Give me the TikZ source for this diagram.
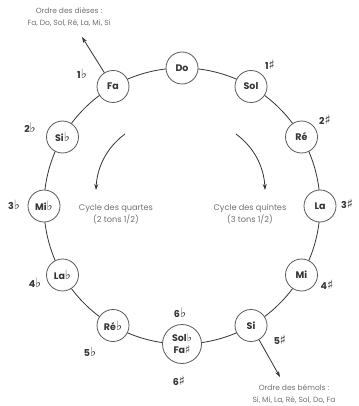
\documentclass[tikz,border=0pt]{standalone}
\usepackage{fontspec}
\setmainfont{Poppins}
\newfontfamily\symf{DejaVu Sans}
\usetikzlibrary{arrows.meta}
\newcommand{\fl}{\scalebox{1.35}{\symf\char"266D}}
\newcommand{\sh}{\scalebox{1.35}{\symf\char"266F}}
\newcommand{\flsm}{\scalebox{1.15}{\symf\char"266D}}
\newcommand{\shsm}{\scalebox{1.15}{\symf\char"266F}}
\definecolor{ringc}{HTML}{5A5A5A}
\definecolor{notec}{HTML}{333333}
\definecolor{infoc}{HTML}{707070}
\definecolor{linec}{HTML}{333333}
\begin{document}
\begin{tikzpicture}[x=1pt,y=-1pt,
  note/.style={circle, draw=ringc, fill=white, line width=0.8pt, minimum size=32pt, inner sep=0pt,
    font=\fontsize{9.5}{10.5}\selectfont\bfseries, text=notec, align=center},
  cnt/.style={font=\fontsize{9.5}{10.5}\selectfont\bfseries, text=notec, inner sep=0pt},
  info/.style={font=\fontsize{7.5}{12}\selectfont, text=infoc, align=center, inner sep=0pt},
  cyc/.style={font=\fontsize{8.2}{12.5}\selectfont, text=infoc, align=center, inner sep=0pt},
  ptr/.style={-{Stealth[length=6pt,width=4pt]}, draw=linec, line width=0.8pt}]
\useasboundingbox (0,0) rectangle (358,406);
\coordinate (C) at (182,206);
\draw[linec, line width=0.8pt] (C) circle [radius=138pt];
% notes
\node[note] (Do)  at (182,68) {Do};
\node[note] (Sol) at (251,86.5) {Sol};
\node[note] (Re)  at (301.5,137) {Ré};
\node[note] (La)  at (320,206) {La};
\node[note] (Mi)  at (301.5,275) {Mi};
\node[note] (Si)  at (251,325.5) {Si};
\node[note, minimum size=39pt, font=\fontsize{9.5}{12}\selectfont\bfseries] (SolFa) at (182,344) {Sol\flsm\\Fa\shsm};
\node[note] (Reb) at (113,325.5) {Ré\fl};
\node[note] (Lab) at (62.5,275) {La\fl};
\node[note] (Mib) at (44,206) {Mi\fl};
\node[note] (Sib) at (62.5,137) {Si\fl};
\node[note] (Fa)  at (113,86.5) {Fa};
% counts
\node[cnt] (c1f) at (82,74) {1\fl};
\node[cnt] (c2f) at (30,128) {2\fl};
\node[cnt] (c3f) at (14,205) {3\fl};
\node[cnt] (c4f) at (35,283) {4\fl};
\node[cnt] (c5f) at (90,352) {5\fl};
\node[cnt] (c6f) at (180,313) {6\fl};
\node[cnt] (c6s) at (179,381) {6\sh};
\node[cnt] (c5s) at (280,340) {5\sh};
\node[cnt] (c4s) at (327,285) {4\sh};
\node[cnt] (c3s) at (347,204) {3\sh};
\node[cnt] (c2s) at (325,120) {2\sh};
\node[cnt] (c1s) at (270,65) {1\sh};
% order texts
\node[info] (dieses) at (69,17) {Ordre des dièses :\\Fa, Do, Sol, Ré, La, Mi, Si};
\node[info] (bemols) at (294,394) {Ordre des bémols :\\Si, Mi, La, Ré, Sol, Do, Fa};
\coordinate (dtip) at (82,37);
\coordinate (btip) at (280,377);
\draw[ptr] (Fa) -- (dtip);
\draw[ptr] (Si) -- (btip);
% cycles
\node[cyc] (quartes) at (116,214) {Cycle des quartes\\(2 tons 1/2)};
\node[cyc] (quintes) at (250,214) {Cycle des quintes\\(3 tons 1/2)};
\coordinate (l1) at (125,134);
\coordinate (l2) at (96,190);
\coordinate (r1) at (236,134);
\coordinate (r2) at (265,190);
\draw[ptr] (l1) .. controls (106,148) and (97,168) .. (l2);
\draw[ptr] (r1) .. controls (255,148) and (264,168) .. (r2);
\end{tikzpicture}
\end{document}
